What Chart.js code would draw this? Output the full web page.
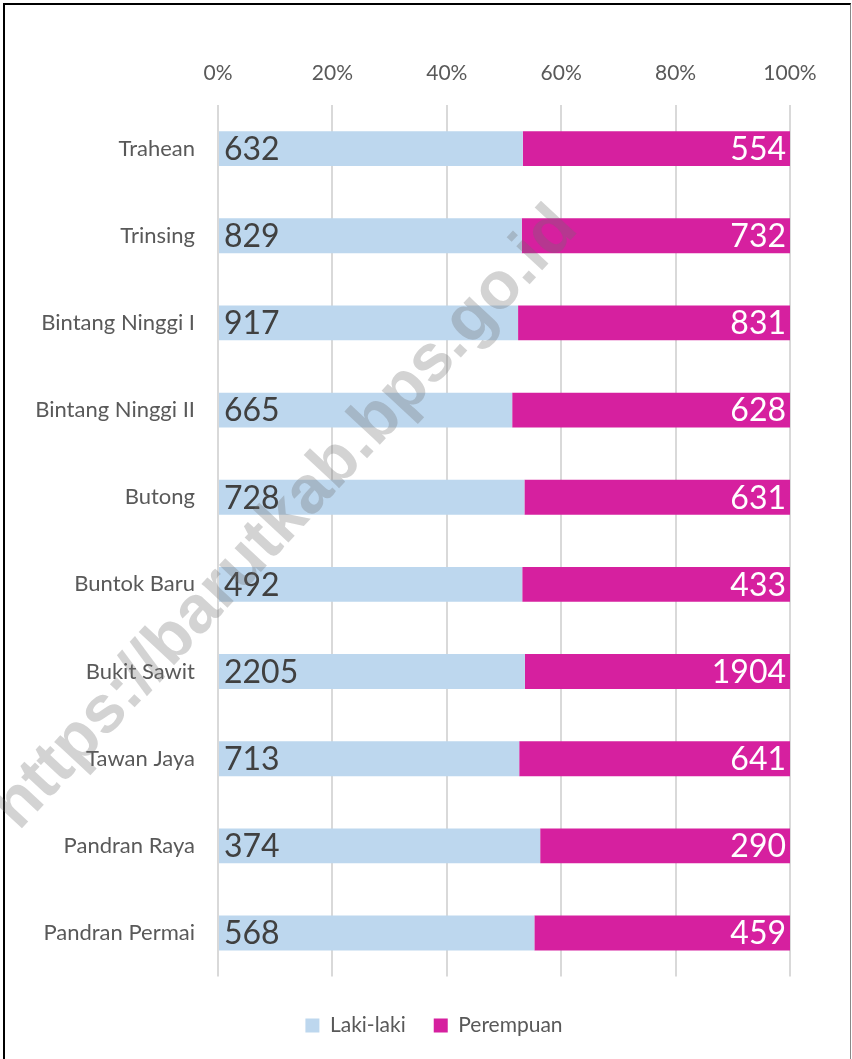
<!DOCTYPE html>
<html>
<head>
<meta charset="utf-8">
<script src="https://cdn.jsdelivr.net/npm/chart.js@4.4.0/dist/chart.umd.min.js"></script>
<style>
  html, body { margin: 0; padding: 0; background: #fff; }
  #wrap { position: relative; width: 852px; height: 1059px; overflow: hidden; }
  #frame {
    position: absolute; left: 3px; top: 3px; width: 845px; height: 1080px;
    border-top: 2px solid #000; border-left: 2px solid #000; border-right: 1px solid #888;
    pointer-events: none;
  }
  #chart { position: absolute; left: 0; top: 0; }
  #watermark {
    position: absolute; left: 282px; top: 515px;
    transform: translate(-50%, -50%) rotate(-47deg);
    font: bold 67px "Liberation Sans", Arial, sans-serif;
    color: rgba(110, 110, 110, 0.3);
    white-space: nowrap; pointer-events: none;
  }
</style>
</head>
<body>
<div id="wrap">
  <canvas id="chart" width="852" height="1059"></canvas>
  <div id="frame"></div>
  <div id="watermark">https://barutkab.bps.go.id</div>
</div>
<script>
const categories = ["Trahean", "Trinsing", "Bintang Ninggi I", "Bintang Ninggi II", "Butong",
  "Buntok Baru", "Bukit Sawit", "Tawan Jaya", "Pandran Raya", "Pandran Permai"];
const lakiLaki = [632, 829, 917, 665, 728, 492, 2205, 713, 374, 568];
const perempuan = [554, 732, 831, 628, 631, 433, 1904, 641, 290, 459];
const tickSteps = [0, 20, 40, 60, 80, 100];

const FONT = "Lato, 'Open Sans', sans-serif";

// 100% stacked shares
const share = (a, b) => a.map((v, i) => (v / (v + b[i])) * 100);
const lakiPct = share(lakiLaki, perempuan);
const perPct = share(perempuan, lakiLaki);

const valueLabels = {
  id: "valueLabels",
  afterDatasetsDraw(chart) {
    const ctx = chart.ctx;
    ctx.save();
    ctx.font = "32px " + FONT;
    ctx.textBaseline = "middle";
    chart.getDatasetMeta(0).data.forEach((bar, i) => {
      ctx.fillStyle = "#404040";
      ctx.textAlign = "left";
      ctx.fillText(String(lakiLaki[i]), bar.base + 5, bar.y + 1);
    });
    chart.getDatasetMeta(1).data.forEach((bar, i) => {
      ctx.fillStyle = "#ffffff";
      ctx.textAlign = "right";
      ctx.fillText(String(perempuan[i]), bar.x - 4, bar.y + 1);
    });
    ctx.restore();
  }
};

new Chart(document.getElementById("chart"), {
  type: "bar",
  data: {
    labels: categories,
    datasets: [
      { label: "Laki-laki", data: lakiPct, backgroundColor: "#bdd7ee" },
      { label: "Perempuan", data: perPct, backgroundColor: "#d6209f" }
    ]
  },
  options: {
    indexAxis: "y",
    responsive: false,
    animation: false,
    barPercentage: 0.4,
    categoryPercentage: 1,
    layout: { padding: { left: 16, right: 0, top: 0, bottom: 13 } },
    scales: {
      x: {
        position: "top",
        stacked: true,
        min: 0,
        max: 100,
        afterBuildTicks: (s) => { s.ticks = tickSteps.map((v) => ({ value: v })); },
        afterFit: (s) => { s.height = 105; },
        grid: { color: "#d9d9d9", lineWidth: 2, drawTicks: false },
        border: { display: false },
        ticks: {
          padding: 19,
          color: "#595959",
          font: { family: FONT, size: 21 },
          callback: (v) => v + "%"
        }
      },
      y: {
        stacked: true,
        afterFit: (s) => { s.width = 202; },
        grid: { display: false, drawTicks: false },
        border: { display: false },
        ticks: {
          autoSkip: false,
          padding: 23,
          color: "#595959",
          font: { family: FONT, size: 22 }
        }
      },
      // empty right-hand axis, only reserves the right margin
      yRight: {
        type: "category",
        position: "right",
        afterFit: (s) => { s.width = 62; },
        grid: { display: false, drawTicks: false },
        border: { display: false },
        ticks: { display: false }
      }
    },
    plugins: {
      tooltip: { enabled: false },
      legend: {
        position: "bottom",
        title: { display: true, text: "", padding: { top: 8, bottom: 0 }, font: { size: 2 } },
        labels: {
          boxWidth: 14,
          boxHeight: 14,
          padding: 28,
          color: "#595959",
          font: { family: FONT, size: 21 }
        }
      }
    }
  },
  plugins: [valueLabels]
});
</script>
</body>
</html>
